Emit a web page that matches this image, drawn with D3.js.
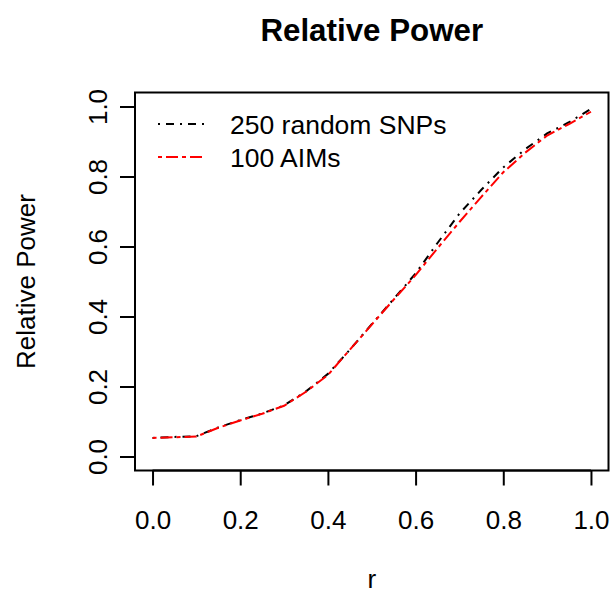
<!DOCTYPE html>
<html>
<head>
<meta charset="utf-8">
<script src="https://cdn.jsdelivr.net/npm/d3@7"></script>
<style>
  html, body { margin: 0; padding: 0; background: #fff; }
  svg text { font-family: "Liberation Sans", Arial, Helvetica, sans-serif; fill: #000; }
</style>
</head>
<body>
<svg id="chart" width="612" height="594"></svg>
<script>
// ---- data ----
const rValues = [0.00, 0.05, 0.10, 0.15, 0.20, 0.25, 0.30, 0.35, 0.40, 0.45, 0.50,
                 0.55, 0.60, 0.65, 0.70, 0.75, 0.80, 0.85, 0.90, 0.95, 1.00];
const randomSNPs = [0.053, 0.056, 0.058, 0.083, 0.104, 0.123, 0.146, 0.186, 0.236, 0.305, 0.378,
                    0.450, 0.523, 0.610, 0.694, 0.762, 0.826, 0.878, 0.923, 0.955, 0.993];
const aims       = [0.053, 0.055, 0.057, 0.082, 0.103, 0.122, 0.145, 0.185, 0.233, 0.305, 0.377,
                    0.448, 0.518, 0.595, 0.670, 0.742, 0.812, 0.868, 0.917, 0.950, 0.985];
const xTicks = [0.0, 0.2, 0.4, 0.6, 0.8, 1.0];
const yTicks = [0.0, 0.2, 0.4, 0.6, 0.8, 1.0];
const seriesNames = ["250 random SNPs", "100 AIMs"];
const seriesColors = ["#000000", "#ff0000"];
const seriesDash = ["2,6,8,6", "4,4,12,4"];
const title = "Relative Power";
const xLabel = "r";
const yLabel = "Relative Power";

// ---- layout ----
const svg = d3.select("#chart");
const box = { left: 135, right: 608.5, top: 92.5, bottom: 470.5 };
const x = d3.scaleLinear().domain([-0.04, 1.04]).range([box.left, box.right]);
const y = d3.scaleLinear().domain([-0.04, 1.04]).range([box.bottom, box.top]);
const fs = 26;

// box
svg.append("rect")
  .attr("x", box.left).attr("y", box.top)
  .attr("width", box.right - box.left).attr("height", box.bottom - box.top)
  .attr("fill", "none").attr("stroke", "#000").attr("stroke-width", 2);

// x axis
const xAxis = d3.axisBottom(x).tickValues(xTicks).tickSize(15).tickFormat(d3.format(".1f"));
const gx = svg.append("g").attr("transform", `translate(0,${box.bottom})`).call(xAxis);
gx.select(".domain").attr("d", `M${x(xTicks[0])},0H${x(xTicks[xTicks.length-1])}`).attr("stroke-width", 2);
gx.selectAll(".tick line").attr("stroke-width", 2);
gx.selectAll(".tick text").attr("font-size", fs).attr("dy", null).attr("y", 58)
  .attr("font-family", "Liberation Sans, Arial, sans-serif");

// y axis
const yAxis = d3.axisLeft(y).tickValues(yTicks).tickSize(15).tickFormat(d3.format(".1f"));
const gy = svg.append("g").attr("transform", `translate(${box.left},0)`).call(yAxis);
gy.select(".domain").attr("d", `M0,${y(yTicks[0])}V${y(yTicks[yTicks.length-1])}`).attr("stroke-width", 2);
gy.selectAll(".tick line").attr("stroke-width", 2);
gy.selectAll(".tick text")
  .attr("font-size", fs).attr("font-family", "Liberation Sans, Arial, sans-serif")
  .attr("x", null).attr("dy", null)
  .attr("text-anchor", "middle")
  .attr("transform", "translate(-28,0) rotate(-90)");

// lines
const series = [randomSNPs, aims];
const line = d3.line().x((d, i) => x(rValues[i])).y(d => y(d));
series.forEach((vals, k) => {
  svg.append("path").datum(vals)
    .attr("d", line)
    .attr("fill", "none")
    .attr("stroke", seriesColors[k])
    .attr("stroke-width", 2)
    .attr("stroke-dasharray", seriesDash[k]);
});

// legend
const legY = [124, 157];
seriesNames.forEach((name, k) => {
  svg.append("line")
    .attr("x1", 158).attr("x2", 204).attr("y1", legY[k]).attr("y2", legY[k])
    .attr("stroke", seriesColors[k]).attr("stroke-width", 2)
    .attr("stroke-dasharray", seriesDash[k]);
  svg.append("text").attr("x", 230).attr("y", legY[k] + 9.5)
    .attr("font-size", 26.5).text(name);
});

// titles
svg.append("text").attr("x", (box.left + box.right) / 2).attr("y", 41)
  .attr("text-anchor", "middle").attr("font-size", 31.3).attr("font-weight", "bold").text(title);
svg.append("text").attr("x", (box.left + box.right) / 2).attr("y", 588)
  .attr("text-anchor", "middle").attr("font-size", fs).text(xLabel);
svg.append("text")
  .attr("transform", `translate(35,${(box.top + box.bottom) / 2}) rotate(-90)`)
  .attr("text-anchor", "middle").attr("font-size", fs).text(yLabel);
</script>
</body>
</html>
